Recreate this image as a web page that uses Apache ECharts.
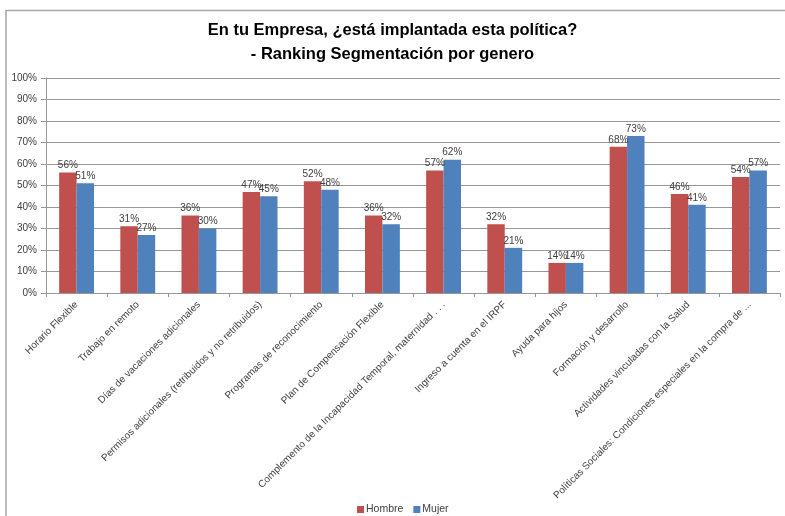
<!DOCTYPE html>
<html>
<head>
<meta charset="utf-8">
<script src="https://cdn.jsdelivr.net/npm/echarts@6/dist/echarts.min.js"></script>
<style>
  html, body { margin: 0; padding: 0; background: #fff; }
  #chart { width: 785px; height: 516px; }
</style>
</head>
<body>
<div id="chart"></div>
<script>
// Policies surveyed, in display order
const categories = [
  'Horario Flexible',
  'Trabajo en remoto',
  'Días de vacaciones adicionales',
  'Permisos adicionales (retribuidos y no retribuidos)',
  'Programas de reconocimiento',
  'Plan de Compensación Flexible',
  'Complemento de la Incapacidad Temporal, maternidad . . .',
  'Ingreso a cuenta en el IRPF',
  'Ayuda para hijos',
  'Formación y desarrollo',
  'Actividades vinculadas con la Salud',
  'Políticas Sociales: Condiciones especiales en la compra de ...'
];

// Share of respondents (%) reporting each policy, by gender
const hombre = [56, 31, 36, 47, 52, 36, 57, 32, 14, 68, 46, 54];
const mujer  = [51, 27, 30, 45, 48, 32, 62, 21, 14, 73, 41, 57];

const titleLines = [
  'En tu Empresa, ¿está implantada esta política?',
  '- Ranking Segmentación por genero'
];

const yTicks = { min: 0, max: 100, interval: 10 };

const FONT = '"Liberation Sans", Arial, sans-serif';
const TEXT = '#404040';
const GRID = '#979797';

const chart = echarts.init(document.getElementById('chart'), null, { renderer: 'canvas' });

const barLabel = {
  show: true,
  position: 'top',
  distance: 2,
  formatter: p => p.value + '%',
  fontFamily: FONT,
  fontSize: 10,
  color: TEXT
};

const titleStyle = {
  fontFamily: FONT,
  fontSize: 16.5,
  fontWeight: 'bold',
  color: '#000'
};

chart.setOption({
  animation: false,
  backgroundColor: '#ffffff',
  title: [
    { text: titleLines[0], left: 'center', top: 22, padding: [0, 0, 0, 14], textStyle: titleStyle },
    { text: titleLines[1], left: 'center', top: 46, padding: [0, 0, 0, 14], textStyle: titleStyle }
  ],
  legend: {
    top: 499,
    left: 352,
    itemWidth: 7,
    itemHeight: 7,
    itemGap: 10,
    icon: 'rect',
    textStyle: { fontFamily: FONT, fontSize: 10.5, color: TEXT, padding: [0, 0, 0, -3] },
    data: ['Hombre', 'Mujer']
  },
  grid: { left: 46, right: 5, top: 78, bottom: 223, containLabel: false },
  xAxis: {
    type: 'category',
    data: categories,
    axisLine: { lineStyle: { color: GRID, width: 1 } },
    axisTick: { show: true, length: 4, lineStyle: { color: GRID } },
    axisLabel: {
      interval: 0,
      rotate: 45,
      margin: 10,
      fontFamily: FONT,
      fontSize: 10,
      color: TEXT
    }
  },
  yAxis: {
    type: 'value',
    min: yTicks.min,
    max: yTicks.max,
    interval: yTicks.interval,
    axisLine: { show: true, lineStyle: { color: GRID, width: 1 } },
    axisTick: { show: true, length: 5, lineStyle: { color: GRID } },
    axisLabel: {
      formatter: '{value}%',
      margin: 9,
      fontFamily: FONT,
      fontSize: 10,
      color: TEXT
    },
    splitLine: { show: true, lineStyle: { color: GRID, width: 1 } }
  },
  series: [
    {
      name: 'Hombre',
      type: 'bar',
      data: hombre,
      barGap: '0%',
      barCategoryGap: '43%',
      itemStyle: { color: '#C0504D' },
      label: barLabel
    },
    {
      name: 'Mujer',
      type: 'bar',
      data: mujer,
      barGap: '0%',
      barCategoryGap: '43%',
      itemStyle: { color: '#4F81BD' },
      label: barLabel
    }
  ],
  graphic: [
    // chart frame (top and left edges)
    {
      type: 'polyline',
      shape: { points: [[6, 516], [6, 10.5], [785, 10.5]] },
      style: { stroke: '#a6a6a6', lineWidth: 1.5, fill: null },
      silent: true
    }
  ]
});
</script>
</body>
</html>
